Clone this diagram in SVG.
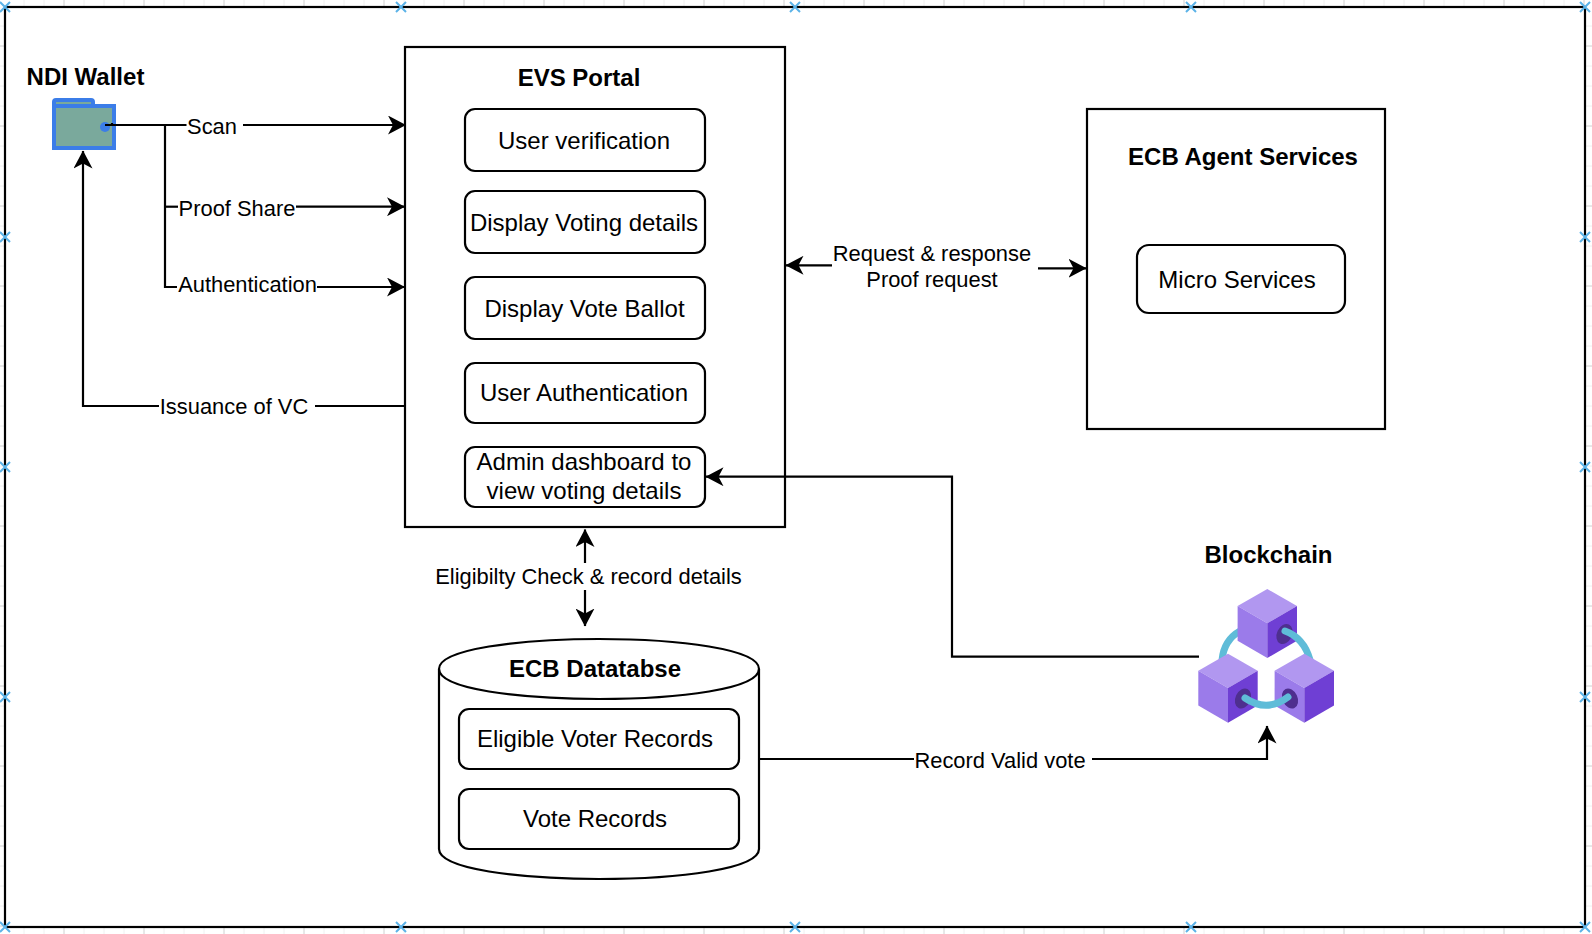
<svg xmlns="http://www.w3.org/2000/svg" width="1592" height="934" viewBox="0 0 1592 934">
<style>
text{font-family:"Liberation Sans",Arial,sans-serif;font-size:24px;fill:#000;text-anchor:middle}
.b{font-weight:bold}
.lbl{font-size:21.9px}
.box{fill:#fff;stroke:#000;stroke-width:2.2}
.line{fill:none;stroke:#000;stroke-width:2.2}
.arrow{marker-end:url(#ah)}
.minor{stroke:#f0f0f0;stroke-width:1}
.major{stroke:#d0d0d0;stroke-width:1}
.x{fill:none;stroke:#5cb3e8;stroke-width:2}
.top{fill:#b197f0}.lf{fill:#9b7bea}.rt{fill:#6f3fd4}.hole{fill:#4e2f8f}
.link{fill:none;stroke:#5fbcd8;stroke-width:7;stroke-linecap:round}
</style>
<defs>
<marker id="ah" markerUnits="userSpaceOnUse" markerWidth="19" markerHeight="19" refX="17.5" refY="9.5" orient="auto">
<path d="M18,9.500 L0,0 L5,9.500 L0,19 Z" fill="#000"/>
</marker>
<g id="cube">
<path class="top" d="M0,0 L29.7,17 L0,34.3 L-29.7,17 Z"/>
<path class="lf" d="M-29.7,17 L0,34.3 L0,69 L-29.7,51.7 Z"/>
<path class="rt" d="M29.7,17 L0,34.3 L0,69 L29.7,51.7 Z"/>
</g>
<path id="m" d="M-5,-5 L5,5 M-5,5 L5,-5"/>
</defs>
<rect width="1592" height="934" fill="#fff"/>
<g id="grid">
<path class="minor" d="M24,0V7M44,0V7M84,0V7M104,0V7M124,0V7M164,0V7M184,0V7M204,0V7M244,0V7M264,0V7M284,0V7M324,0V7M344,0V7M364,0V7M404,0V7M424,0V7M444,0V7M484,0V7M504,0V7M524,0V7M564,0V7M584,0V7M604,0V7M644,0V7M664,0V7M684,0V7M724,0V7M744,0V7M764,0V7M804,0V7M824,0V7M844,0V7M884,0V7M904,0V7M924,0V7M964,0V7M984,0V7M1004,0V7M1044,0V7M1064,0V7M1084,0V7M1124,0V7M1144,0V7M1164,0V7M1204,0V7M1224,0V7M1244,0V7M1284,0V7M1304,0V7M1324,0V7M1364,0V7M1384,0V7M1404,0V7M1444,0V7M1464,0V7M1484,0V7M1524,0V7M1544,0V7M1564,0V7"/>
<path class="minor" d="M24,927V934M44,927V934M84,927V934M104,927V934M124,927V934M164,927V934M184,927V934M204,927V934M244,927V934M264,927V934M284,927V934M324,927V934M344,927V934M364,927V934M404,927V934M424,927V934M444,927V934M484,927V934M504,927V934M524,927V934M564,927V934M584,927V934M604,927V934M644,927V934M664,927V934M684,927V934M724,927V934M744,927V934M764,927V934M804,927V934M824,927V934M844,927V934M884,927V934M904,927V934M924,927V934M964,927V934M984,927V934M1004,927V934M1044,927V934M1064,927V934M1084,927V934M1124,927V934M1144,927V934M1164,927V934M1204,927V934M1224,927V934M1244,927V934M1284,927V934M1304,927V934M1324,927V934M1364,927V934M1384,927V934M1404,927V934M1444,927V934M1464,927V934M1484,927V934M1524,927V934M1544,927V934M1564,927V934"/>
<path class="major" d="M64,0V7M144,0V7M224,0V7M304,0V7M384,0V7M464,0V7M544,0V7M624,0V7M704,0V7M784,0V7M864,0V7M944,0V7M1024,0V7M1104,0V7M1184,0V7M1264,0V7M1344,0V7M1424,0V7M1504,0V7M1584,0V7"/>
<path class="major" d="M64,927V934M144,927V934M224,927V934M304,927V934M384,927V934M464,927V934M544,927V934M624,927V934M704,927V934M784,927V934M864,927V934M944,927V934M1024,927V934M1104,927V934M1184,927V934M1264,927V934M1344,927V934M1424,927V934M1504,927V934"/>
<path class="minor" d="M0,26H5M0,66H5M0,86H5M0,106H5M0,146H5M0,166H5M0,186H5M0,226H5M0,246H5M0,266H5M0,306H5M0,326H5M0,346H5M0,386H5M0,406H5M0,426H5M0,466H5M0,486H5M0,506H5M0,546H5M0,566H5M0,586H5M0,626H5M0,646H5M0,666H5M0,706H5M0,726H5M0,746H5M0,786H5M0,806H5M0,826H5M0,866H5M0,886H5M0,906H5"/>
<path class="minor" d="M1585,26H1592M1585,66H1592M1585,86H1592M1585,106H1592M1585,146H1592M1585,166H1592M1585,186H1592M1585,226H1592M1585,246H1592M1585,266H1592M1585,306H1592M1585,326H1592M1585,346H1592M1585,386H1592M1585,406H1592M1585,426H1592M1585,466H1592M1585,486H1592M1585,506H1592M1585,546H1592M1585,566H1592M1585,586H1592M1585,626H1592M1585,646H1592M1585,666H1592M1585,706H1592M1585,726H1592M1585,746H1592M1585,786H1592M1585,806H1592M1585,826H1592M1585,866H1592M1585,886H1592M1585,906H1592"/>
<path class="major" d="M0,46H5M0,126H5M0,206H5M0,286H5M0,366H5M0,446H5M0,526H5M0,606H5M0,686H5M0,766H5M0,846H5M0,926H5M1585,46H1592M1585,126H1592M1585,206H1592M1585,286H1592M1585,366H1592M1585,446H1592M1585,526H1592M1585,606H1592M1585,686H1592M1585,766H1592M1585,846H1592"/>
</g>
<rect id="frame" x="5" y="7" width="1580" height="920" fill="#fff" stroke="#000" stroke-width="2.2"/>
<g id="handles" class="x">
<use href="#m" x="5" y="7"/><use href="#m" x="401" y="7"/><use href="#m" x="795" y="7"/><use href="#m" x="1191" y="7"/><use href="#m" x="1585" y="7"/>
<use href="#m" x="5" y="237"/><use href="#m" x="1585" y="237"/>
<use href="#m" x="5" y="467"/><use href="#m" x="1585" y="467"/>
<use href="#m" x="5" y="697"/><use href="#m" x="1585" y="697"/>
<use href="#m" x="5" y="927"/><use href="#m" x="401" y="927"/><use href="#m" x="795" y="927"/><use href="#m" x="1191" y="927"/><use href="#m" x="1585" y="927"/>
</g>
<g id="evs-portal">
<rect class="box" x="405" y="47" width="380" height="480"/>
<text class="b" x="579" y="85.500">EVS Portal</text>
</g>
<g id="user-verification"><rect class="box" x="465" y="109" width="240" height="62" rx="10"/><text x="584" y="149">User verification</text></g>
<g id="display-voting"><rect class="box" x="465" y="191" width="240" height="62" rx="10"/><text x="584" y="231">Display Voting details</text></g>
<g id="display-ballot"><rect class="box" x="465" y="277" width="240" height="62" rx="10"/><text x="584.5" y="317">Display Vote Ballot</text></g>
<g id="user-authentication"><rect class="box" x="465" y="363" width="240" height="60" rx="10"/><text x="584" y="401">User Authentication</text></g>
<g id="admin-dashboard"><rect class="box" x="465" y="447" width="240" height="60" rx="10"/><text x="584" y="470">Admin dashboard to</text><text x="584" y="498.5">view voting details</text></g>
<g id="ecb-agent">
<rect class="box" x="1087" y="109" width="298" height="320"/>
<text class="b" x="1243" y="165">ECB Agent Services</text>
</g>
<g id="micro-services"><rect class="box" x="1137" y="245" width="208" height="68" rx="12"/><text x="1237" y="287.500">Micro Services</text></g>
<g id="ecb-database">
<path class="box" d="M439,669 C439,629 759,629 759,669 L759,849 C759,889 439,889 439,849 Z"/>
<path class="line" d="M439,669 C439,709 759,709 759,669"/>
<text class="b" x="595" y="677">ECB Datatabse</text>
</g>
<g id="eligible-records"><rect class="box" x="459" y="709" width="280" height="60" rx="10"/><text x="595" y="747">Eligible Voter Records</text></g>
<g id="vote-records"><rect class="box" x="459" y="789" width="280" height="60" rx="10"/><text x="595" y="827">Vote Records</text></g>
<g id="ndi-wallet">
<text class="b" x="85.5" y="85">NDI Wallet</text>
<path d="M52,150 V102 Q52,98 56,98 H91 Q95,98 95,102 V104 H116 V150 Z" fill="#3b7de8"/>
<rect x="56" y="102" width="35" height="2" fill="#7aa99c"/>
<rect x="56" y="108" width="56" height="38" fill="#7aa99c"/>
<circle cx="105" cy="127" r="5" fill="#3b7de8"/>
</g>
<g id="blockchain">
<text class="b" x="1268.5" y="563">Blockchain</text>
<path class="link" d="M1240,631 Q1224,640 1222,660" style="stroke-linecap:butt"/>
<use href="#cube" x="1267.3" y="589"/>
<ellipse class="hole" cx="1284.5" cy="634" rx="7.500" ry="10.500" transform="rotate(25 1284.5 634)"/>
<path class="link" d="M1285,631 Q1304,638 1310,660"/>
<use href="#cube" x="1228" y="653.7"/>
<use href="#cube" x="1304.3" y="653.7"/>
<ellipse class="hole" cx="1243" cy="698.5" rx="7.500" ry="10.500" transform="rotate(25 1243 698.5)"/>
<ellipse class="hole" cx="1290" cy="698.5" rx="7.500" ry="10.500" transform="rotate(-25 1290 698.5)"/>
<path class="link" d="M1245,698 Q1267,713 1288,697"/>
</g>
<g id="connectors">
<path class="line" d="M105,125 H186.500"/>
<path class="line arrow" d="M243,125 H405.500"/>
<path class="line" d="M165,125 V287 H177"/>
<path class="line" d="M165,206.700 H178"/>
<path class="line arrow" d="M296,206.700 H404.500"/>
<path class="line arrow" d="M317,287 H404.500"/>
<path class="line" d="M405,406 H315"/>
<path class="line arrow" d="M159,406 H83 V151"/>
<path class="line" d="M112,125 V123"/>
<path class="line arrow" d="M832,265.300 H786"/>
<path class="line arrow" d="M1038,268.300 H1086"/>
<path class="line arrow" d="M585,563 V529.500"/>
<path class="line arrow" d="M585,590 V626"/>
<path class="line arrow" d="M1199,656.700 H952 V476.700 H706"/>
<path class="line" d="M759,759 H914"/>
<path class="line arrow" d="M1092,759 H1267 V726"/>
</g>
<g id="connector-labels" class="lbl">
<text class="lbl" x="212" y="134">Scan</text>
<text class="lbl" x="237" y="216">Proof Share</text>
<text class="lbl" x="247.500" y="292">Authentication</text>
<text class="lbl" x="234" y="414">Issuance of VC</text>
<text class="lbl" x="932" y="261">Request &amp; response</text>
<text class="lbl" x="932" y="287">Proof request</text>
<text class="lbl" x="588.500" y="584">Eligibilty Check &amp; record details</text>
<text class="lbl" x="1000" y="768">Record Valid vote</text>
</g>
</svg>
